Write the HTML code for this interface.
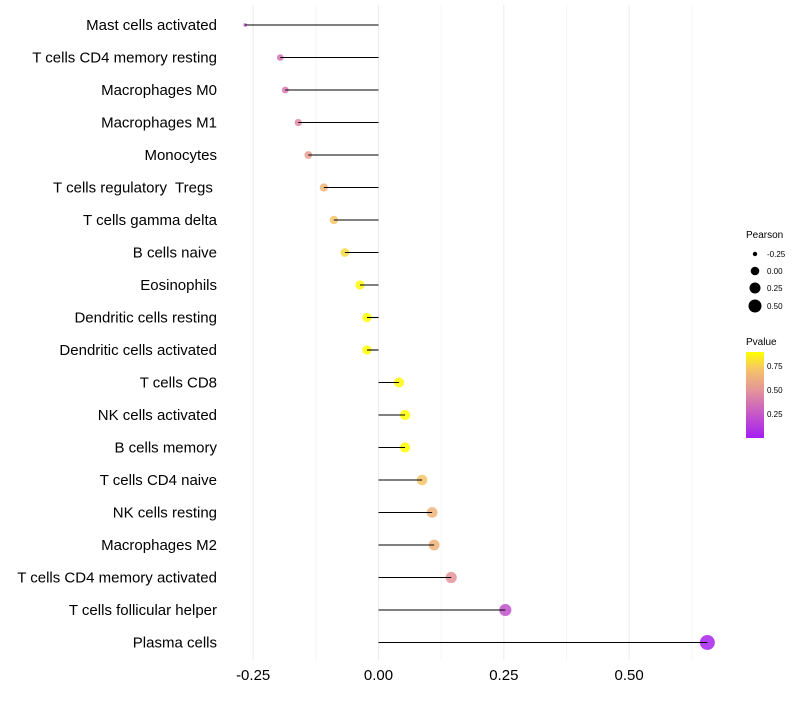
<!DOCTYPE html>
<html><head><meta charset="utf-8"><style>
body{margin:0;background:#fff;font-family:"Liberation Sans",sans-serif}
text{white-space:pre}
</style></head><body>
<svg id="chart" width="800" height="700" xmlns="http://www.w3.org/2000/svg">
<defs><linearGradient id="pg" x1="0" y1="1" x2="0" y2="0">
<stop offset="0" stop-color="#a41ef2"/><stop offset="0.3" stop-color="#c85cc4"/><stop offset="0.55" stop-color="#e4939a"/><stop offset="0.8" stop-color="#f6c468"/><stop offset="1" stop-color="#ffff00"/></linearGradient></defs>
<g id="grid"></g><g id="dots"></g><g id="marks"></g><g id="labels"></g>
<g font-size="9" fill="#000">
<text x="746" y="238" font-size="10">Pearson</text>
<circle cx="755" cy="254" r="2.2"/><text x="767" y="257" font-size="8">-0.25</text>
<circle cx="755" cy="271" r="4.3"/><text x="767" y="274" font-size="8">0.00</text>
<circle cx="755" cy="288" r="5.5"/><text x="767" y="291" font-size="8">0.25</text>
<circle cx="755" cy="306" r="6.5"/><text x="767" y="309" font-size="8">0.50</text>
</g>
<g>
<text x="746" y="345" font-size="10">Pvalue</text>
<rect x="746" y="352" width="18" height="86" fill="url(#pg)"/>
<text x="767" y="369" font-size="8">0.75</text>
<text x="767" y="393" font-size="8">0.50</text>
<text x="767" y="417" font-size="8">0.25</text>
</g>
</svg>
<script>
const categories=["Mast cells activated","T cells CD4 memory resting","Macrophages M0","Macrophages M1","Monocytes","T cells regulatory  Tregs ","T cells gamma delta","B cells naive","Eosinophils","Dendritic cells resting","Dendritic cells activated","T cells CD8","NK cells activated","B cells memory","T cells CD4 naive","NK cells resting","Macrophages M2","T cells CD4 memory activated","T cells follicular helper","Plasma cells"];
const pearson=[-0.266,-0.196,-0.186,-0.160,-0.140,-0.109,-0.089,-0.067,-0.037,-0.023,-0.023,0.041,0.053,0.053,0.087,0.107,0.111,0.145,0.253,0.656];
const pvalue=[0.2,0.36,0.38,0.46,0.55,0.65,0.72,0.78,0.88,0.92,0.92,0.88,0.9,0.9,0.72,0.64,0.64,0.5,0.22,0.02];
const ticks=[-0.25,0,0.25,0.5];
const NS="http://www.w3.org/2000/svg";
const x=v=>378.5+v*501.3;
const y=i=>25+i*32.5;
const pmin=Math.min(...pearson),pmax=Math.max(...pearson);
const rad=v=>{const t=(v-pmin)/(pmax-pmin);return 1.7+5.8*Math.sqrt(Math.max(0,t));};
const stops=[[0,[164,30,242]],[0.3,[200,92,196]],[0.55,[228,147,154]],[0.8,[246,196,104]],[1,[255,255,0]]];
function col(p){const t=Math.min(1,Math.max(0,p/0.9));for(let k=1;k<stops.length;k++){if(t<=stops[k][0]){const a=stops[k-1],b=stops[k],f=(t-a[0])/(b[0]-a[0]);return 'rgb('+a[1].map((c,j)=>Math.round(c+(b[1][j]-c)*f)).join(',')+')';}}return 'rgb(255,255,0)';}
function mk(tag,at,parent){const e=document.createElementNS(NS,tag);for(const k in at)e.setAttribute(k,at[k]);parent.appendChild(e);return e;}
const g=document.getElementById('grid'),m=document.getElementById('marks'),dg=document.getElementById('dots'),l=document.getElementById('labels');
[-0.125,0.125,0.375,0.625].forEach(t=>{const e=mk('line',{x1:x(t),x2:x(t),y1:5,y2:660,stroke:'#f4f4f4','stroke-width':1},g);

});
ticks.forEach(t=>{const e=mk('line',{x1:x(t),x2:x(t),y1:5,y2:660,stroke:'#ebebeb','stroke-width':1},g);


const tx=mk('text',{x:x(t),y:680,'text-anchor':'middle','font-size':15,fill:'#000'},l);tx.textContent=t===0?'0.00':t.toFixed(2);

});
categories.forEach((c,i)=>{
const t=mk('text',{x:217,y:y(i)+5,'text-anchor':'end','font-size':15,fill:'#000'},l);t.textContent=c;


const d=mk('circle',{cx:x(pearson[i]),cy:y(i),r:rad(pearson[i]),fill:col(pvalue[i]),'fill-opacity':0.85},dg);


const s=mk('line',{x1:x(0),x2:x(pearson[i]),y1:y(i),y2:y(i),stroke:'#000','stroke-width':1.1},m);


});
</script>
</body></html>
